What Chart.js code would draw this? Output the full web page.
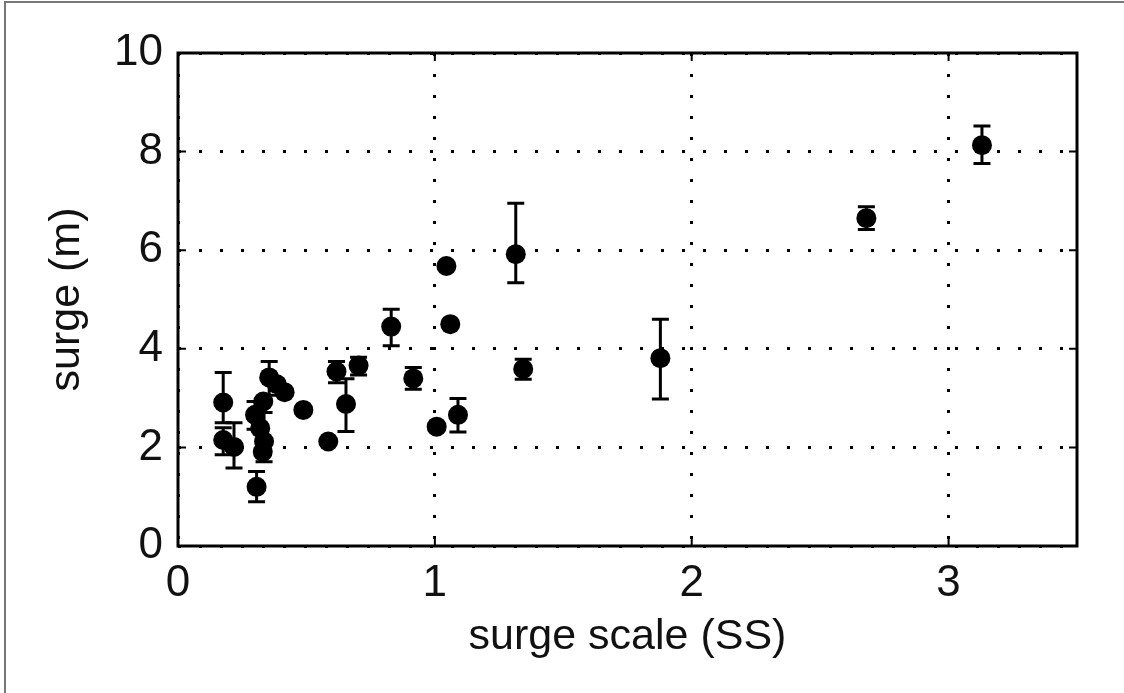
<!DOCTYPE html>
<html>
<head>
<meta charset="utf-8">
<script src="https://cdn.jsdelivr.net/npm/chart.js@4/dist/chart.umd.min.js"></script>
<style>
html, body { margin: 0; padding: 0; background: #fff; }
#wrap { position: relative; width: 1124px; height: 693px; }
</style>
</head>
<body>
<div id="wrap"><canvas id="myChart" width="1124" height="693"></canvas></div>
<script>
// surge scale (SS) vs surge (m)
const surgeScale = [0.176, 0.176, 0.218, 0.306, 0.300, 0.332, 0.355, 0.385, 0.415, 0.488,
    0.320, 0.335, 0.330, 0.585, 0.617, 0.654, 0.703, 0.830, 0.916, 1.007,
    1.045, 1.060, 1.090, 1.315, 1.344, 1.878, 2.680, 3.130];
const surge = [2.91, 2.15, 2.01, 1.20, 2.66, 2.93, 3.42, 3.28, 3.12, 2.76,
    2.39, 2.12, 1.91, 2.12, 3.54, 2.88, 3.66, 4.45, 3.40, 2.42,
    5.68, 4.50, 2.66, 5.92, 3.59, 3.81, 6.65, 8.13];
// error bar ends, null where the picture has none
const errLow = [2.50, 1.85, 1.58, 0.90, 2.37, null, 3.06, null, null, null,
    null, 1.71, null, null, 3.31, 2.32, 3.47, 4.06, 3.18, null,
    null, null, 2.31, 5.34, 3.38, 2.98, 6.42, 7.76];
const errHigh = [3.52, 2.40, 2.50, 1.51, 2.93, null, 3.74, null, null, null,
    null, 2.71, null, null, 3.74, 3.39, 3.83, 4.80, 3.62, null,
    null, null, 2.99, 6.95, 3.79, 4.60, 6.88, 8.52];
const xTicks = [0, 1, 2, 3];
const yTicks = [0, 2, 4, 6, 8, 10];

const fontFamily = "'Liberation Sans', Arial, sans-serif";

const points = [];
for (let i = 0; i < surgeScale.length; i++) {
    points.push({ x: surgeScale[i], y: surge[i] });
}

//error bars drawn from the scales
const errorBars = {
    id: 'errorBars',
    afterDatasetsDraw(chart) {
        const ctx = chart.ctx;
        const xs = chart.scales.x, ys = chart.scales.y;
        ctx.save();
        ctx.strokeStyle = '#000';
        ctx.lineWidth = 3;
        for (let i = 0; i < surgeScale.length; i++) {
            if (errLow[i] === null) continue;
            const px = xs.getPixelForValue(surgeScale[i]);
            const top = ys.getPixelForValue(errHigh[i]);
            const bottom = ys.getPixelForValue(errLow[i]);
            ctx.beginPath();
            ctx.moveTo(px, top); ctx.lineTo(px, bottom);
            ctx.moveTo(px - 8.5, top); ctx.lineTo(px + 8.5, top);
            ctx.moveTo(px - 8.5, bottom); ctx.lineTo(px + 8.5, bottom);
            ctx.stroke();
        }
        ctx.restore();
    }
};

//box round the plot, inward ticks and the outer border
const frame = {
    id: 'frame',
    afterDraw(chart) {
        const ctx = chart.ctx;
        const a = chart.chartArea;
        const xs = chart.scales.x, ys = chart.scales.y;
        ctx.save();
        ctx.strokeStyle = '#000';
        ctx.lineWidth = 2;
        ctx.beginPath();
        xTicks.forEach(v => {
            const px = xs.getPixelForValue(v);
            ctx.moveTo(px, a.bottom); ctx.lineTo(px, a.bottom - 8);
            ctx.moveTo(px, a.top); ctx.lineTo(px, a.top + 8);
        });
        yTicks.forEach(v => {
            const py = ys.getPixelForValue(v);
            ctx.moveTo(a.left, py); ctx.lineTo(a.left + 8, py);
            ctx.moveTo(a.right, py); ctx.lineTo(a.right - 8, py);
        });
        ctx.stroke();
        ctx.lineWidth = 3;
        ctx.strokeRect(a.left, a.top, a.right - a.left, a.bottom - a.top);
        ctx.strokeStyle = '#777';
        ctx.lineWidth = 2;
        ctx.beginPath();
        ctx.moveTo(5, 693); ctx.lineTo(5, 2); ctx.lineTo(1124, 2);
        ctx.stroke();
        ctx.restore();
    }
};

const config = {
    type: 'scatter',
    data: {
        datasets: [{
            label: 'surge',
            data: points,
            backgroundColor: '#000',
            borderColor: '#000',
            borderWidth: 0,
            pointRadius: 10,
            pointHoverRadius: 10
        }]
    },
    options: {
        responsive: false,
        animation: false,
        layout: { padding: { left: 0, top: 53, right: 47, bottom: 0 } },
        plugins: {
            legend: { display: false },
            tooltip: { enabled: false }
        },
        scales: {
            x: {
                type: 'linear',
                min: 0,
                max: 3.5,
                afterFit: function (axis) { axis.height = 147; },
                afterBuildTicks: function (axis) { axis.ticks = xTicks.map(v => ({ value: v })); },
                ticks: { padding: 11, color: '#111', font: { family: fontFamily, size: 44 } },
                grid: { color: '#000', lineWidth: 3, drawTicks: false },
                border: { display: false, dash: [3, 18] },
                title: {
                    display: true,
                    text: 'surge scale (SS)',
                    color: '#111',
                    font: { family: fontFamily, size: 43 },
                    padding: { top: 0, bottom: 30 }
                }
            },
            y: {
                type: 'linear',
                min: 0,
                max: 10,
                afterFit: function (axis) { axis.width = 178; },
                afterBuildTicks: function (axis) { axis.ticks = yTicks.map(v => ({ value: v })); },
                ticks: { padding: 15, color: '#111', font: { family: fontFamily, size: 44 } },
                grid: { color: '#000', lineWidth: 3, drawTicks: false },
                border: { display: false, dash: [3, 18] },
                title: {
                    display: true,
                    text: 'surge (m)',
                    color: '#111',
                    font: { family: fontFamily, size: 43 },
                    padding: { top: 41, bottom: 0 }
                }
            }
        }
    },
    plugins: [errorBars, frame]
};

const myChart = new Chart(document.getElementById('myChart'), config);
</script>
</body>
</html>
